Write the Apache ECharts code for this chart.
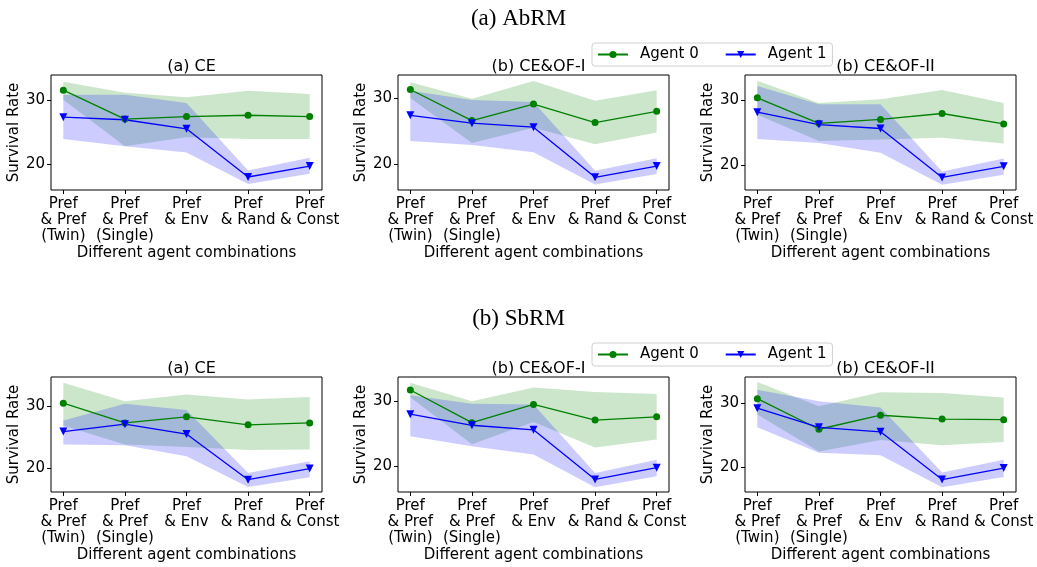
<!DOCTYPE html>
<html>
<head>
<meta charset="utf-8">
<script src="https://cdn.jsdelivr.net/npm/echarts@6/dist/echarts.min.js"></script>
<style>
  html, body { margin: 0; padding: 0; background: #fff; }
  #main { width: 1037px; height: 567px; }
</style>
</head>
<body>
<div id="main"></div>
<script>
// x categories (positions 0..4)
const categories = ['Pref\n& Pref\n(Twin)', 'Pref\n& Pref\n(Single)', 'Pref\n& Env', 'Pref\n& Rand', 'Pref\n& Const']
const yTicks = [20, 30]

// (a) AbRM
const abrmCeA0 = [31.5, 27.0, 27.4, 27.6, 27.4]
const abrmCeA0Hi = [32.8, 31.1, 30.4, 31.4, 30.9]
const abrmCeA0Lo = [30.0, 22.8, 24.2, 23.9, 23.9]
const abrmCeA1 = [27.3, 26.9, 25.5, 18.0, 19.7]
const abrmCeA1Hi = [30.8, 30.8, 29.5, 19.0, 21.0]
const abrmCeA1Lo = [23.9, 22.8, 21.8, 16.9, 18.5]

const abrmOf1A0 = [31.3, 26.6, 29.1, 26.3, 28.0]
const abrmOf1A0Hi = [32.4, 29.9, 32.6, 29.6, 31.2]
const abrmOf1A0Lo = [30.0, 23.2, 25.5, 23.0, 24.8]
const abrmOf1A1 = [27.4, 26.2, 25.6, 18.0, 19.7]
const abrmOf1A1Hi = [31.1, 29.7, 29.4, 19.0, 20.9]
const abrmOf1A1Lo = [23.5, 22.9, 21.8, 16.9, 18.5]

const abrmOf2A0 = [30.3, 26.4, 27.0, 27.9, 26.3]
const abrmOf2A0Hi = [32.9, 29.5, 30.1, 31.5, 29.5]
const abrmOf2A0Lo = [27.7, 23.7, 23.9, 24.2, 23.3]
const abrmOf2A1 = [28.1, 26.2, 25.6, 18.1, 19.8]
const abrmOf2A1Hi = [32.1, 29.3, 29.3, 19.0, 21.0]
const abrmOf2A1Lo = [24.0, 23.4, 21.9, 17.0, 18.5]

// (b) SbRM
const sbrmCeA0 = [30.5, 27.3, 28.3, 27.0, 27.3]
const sbrmCeA0Hi = [33.8, 30.8, 31.9, 31.1, 31.5]
const sbrmCeA0Lo = [26.9, 23.8, 23.4, 22.9, 23.0]
const sbrmCeA1 = [25.9, 27.1, 25.5, 18.1, 19.9]
const sbrmCeA1Hi = [27.7, 30.4, 29.4, 19.2, 21.1]
const sbrmCeA1Lo = [23.8, 23.7, 21.9, 16.9, 18.5]

const sbrmOf1A0 = [31.7, 26.7, 29.5, 27.1, 27.6]
const sbrmOf1A0Hi = [32.8, 30.0, 32.1, 31.4, 31.1]
const sbrmOf1A0Lo = [30.6, 23.4, 26.8, 22.9, 24.1]
const sbrmOf1A1 = [28.0, 26.3, 25.6, 18.0, 19.8]
const sbrmOf1A1Hi = [30.9, 29.6, 29.5, 19.0, 21.0]
const sbrmOf1A1Lo = [24.6, 23.1, 21.8, 16.8, 18.5]

const sbrmOf2A0 = [30.7, 25.9, 28.1, 27.5, 27.4]
const sbrmOf2A0Hi = [33.3, 29.5, 31.7, 31.6, 30.9]
const sbrmOf2A0Lo = [28.2, 22.4, 24.2, 23.4, 23.9]
const sbrmOf2A1 = [29.2, 26.2, 25.5, 18.0, 19.8]
const sbrmOf2A1Hi = [32.1, 30.3, 29.3, 19.1, 21.1]
const sbrmOf2A1Lo = [26.2, 22.2, 21.8, 16.8, 18.4]

const panels = [
  { title: '(a) CE', left: 51, top: 75, yMin: 15.98, yMax: 33.86,
    a0: abrmCeA0, a0Hi: abrmCeA0Hi, a0Lo: abrmCeA0Lo, a1: abrmCeA1, a1Hi: abrmCeA1Hi, a1Lo: abrmCeA1Lo },
  { title: '(b) CE&OF-I', left: 398, top: 75, yMin: 16.08, yMax: 33.5,
    a0: abrmOf1A0, a0Hi: abrmOf1A0Hi, a0Lo: abrmOf1A0Lo, a1: abrmOf1A1, a1Hi: abrmOf1A1Hi, a1Lo: abrmOf1A1Lo },
  { title: '(b) CE&OF-II', left: 745, top: 75, yMin: 16.18, yMax: 33.8,
    a0: abrmOf2A0, a0Hi: abrmOf2A0Hi, a0Lo: abrmOf2A0Lo, a1: abrmOf2A1, a1Hi: abrmOf2A1Hi, a1Lo: abrmOf2A1Lo },
  { title: '(a) CE', left: 51, top: 377, yMin: 16.1, yMax: 34.75,
    a0: sbrmCeA0, a0Hi: sbrmCeA0Hi, a0Lo: sbrmCeA0Lo, a1: sbrmCeA1, a1Hi: sbrmCeA1Hi, a1Lo: sbrmCeA1Lo },
  { title: '(b) CE&OF-I', left: 398, top: 377, yMin: 16.07, yMax: 33.7,
    a0: sbrmOf1A0, a0Hi: sbrmOf1A0Hi, a0Lo: sbrmOf1A0Lo, a1: sbrmOf1A1, a1Hi: sbrmOf1A1Hi, a1Lo: sbrmOf1A1Lo },
  { title: '(b) CE&OF-II', left: 745, top: 377, yMin: 16.05, yMax: 34.1,
    a0: sbrmOf2A0, a0Hi: sbrmOf2A0Hi, a0Lo: sbrmOf2A0Lo, a1: sbrmOf2A1, a1Hi: sbrmOf2A1Hi, a1Lo: sbrmOf2A1Lo }
]

const FONT = 'DejaVu Sans'
const GRID_W = 271
const GRID_H = 115

// band polygon between lo and hi, drawn through the axis scales
function bandSeries(lo, hi, color, idx) {
  return {
    type: 'custom',
    xAxisIndex: idx,
    yAxisIndex: idx,
    silent: true,
    z: 1,
    data: [0],
    renderItem: function (params, api) {
      const pts = []
      for (let i = 0; i < hi.length; i++) pts.push(api.coord([i, hi[i]]))
      for (let i = lo.length - 1; i >= 0; i--) pts.push(api.coord([i, lo[i]]))
      return {
        type: 'polygon',
        shape: { points: pts },
        style: { fill: color }
      }
    }
  }
}

function lineSeries(name, vals, color, symbol, idx) {
  return {
    name: name,
    type: 'line',
    xAxisIndex: idx,
    yAxisIndex: idx,
    z: 3,
    data: vals.map((v, i) => [i, v]),
    symbol: symbol,
    symbolSize: symbol === 'circle' ? 7 : 8,
    symbolRotate: symbol === 'triangle' ? 180 : 0,
    lineStyle: { color: color, width: 1.3 },
    itemStyle: { color: color },
    animation: false
  }
}

const grids = [], xAxes = [], yAxes = [], series = []
const titles = [
  { text: '(a) AbRM', left: 'center', top: 2, textStyle: { fontFamily: 'Liberation Serif', fontSize: 23, fontWeight: 'normal', color: '#000' } },
  { text: '(b) SbRM', left: 'center', top: 302, textStyle: { fontFamily: 'Liberation Serif', fontSize: 23, fontWeight: 'normal', color: '#000' } }
]

panels.forEach((p, idx) => {
  grids.push({ left: p.left, top: p.top, width: GRID_W, height: GRID_H, show: true,
    borderColor: '#000', borderWidth: 1, backgroundColor: 'transparent' })
  titles.push({ text: p.title, left: p.left + GRID_W / 2, top: p.top - 21, textAlign: 'center',
    textStyle: { fontFamily: FONT, fontSize: 16, fontWeight: 'normal', color: '#000' } })
  xAxes.push({
    type: 'value', gridIndex: idx, min: -0.2, max: 4.2,
    name: 'Different agent combinations', nameLocation: 'middle', nameGap: 56,
    nameTextStyle: { fontFamily: FONT, fontSize: 15, color: '#000' },
    axisLine: { show: false, onZero: false },
    splitLine: { show: false },
    axisTick: { show: true, length: 4, customValues: [0, 1, 2, 3, 4], lineStyle: { color: '#000' } },
    axisLabel: { customValues: [0, 1, 2, 3, 4], fontFamily: FONT, fontSize: 15, color: '#000',
      lineHeight: 16, margin: 6, verticalAlign: 'top',
      formatter: v => categories[Math.round(v)] }
  })
  yAxes.push({
    type: 'value', gridIndex: idx, min: p.yMin, max: p.yMax,
    name: 'Survival Rate', nameLocation: 'middle', nameGap: 26, nameRotate: 90,
    nameTextStyle: { fontFamily: FONT, fontSize: 15, color: '#000' },
    axisLine: { show: false, onZero: false },
    splitLine: { show: false },
    axisTick: { show: true, length: 4, customValues: yTicks, lineStyle: { color: '#000' } },
    axisLabel: { customValues: yTicks, fontFamily: FONT, fontSize: 15, color: '#000', margin: 6 }
  })
  series.push(bandSeries(p.a0Lo, p.a0Hi, 'rgba(0,128,0,0.2)', idx))
  series.push(bandSeries(p.a1Lo, p.a1Hi, 'rgba(0,0,255,0.2)', idx))
  series.push(lineSeries('Agent 0', p.a0, '#008000', 'circle', idx))
  series.push(lineSeries('Agent 1', p.a1, '#0000ff', 'triangle', idx))
})

const legendBase = {
  data: ['Agent 0', 'Agent 1'],
  left: 592,
  itemWidth: 30,
  itemHeight: 9,
  itemGap: 26,
  padding: [4, 6, 4, 5],
  borderColor: '#d0d0d0',
  borderWidth: 1,
  borderRadius: 3,
  backgroundColor: 'rgba(255,255,255,0.85)',
  z: 20,
  textStyle: { fontFamily: FONT, fontSize: 15, color: '#000', padding: [0, 0, 0, 7] }
}

const chart = echarts.init(document.getElementById('main'), null, { renderer: 'canvas' })
chart.setOption({
  animation: false,
  title: titles,
  legend: [
    Object.assign({}, legendBase, { top: 43 }),
    Object.assign({}, legendBase, { top: 343 })
  ],
  grid: grids,
  xAxis: xAxes,
  yAxis: yAxes,
  series: series
})
</script>
</body>
</html>
